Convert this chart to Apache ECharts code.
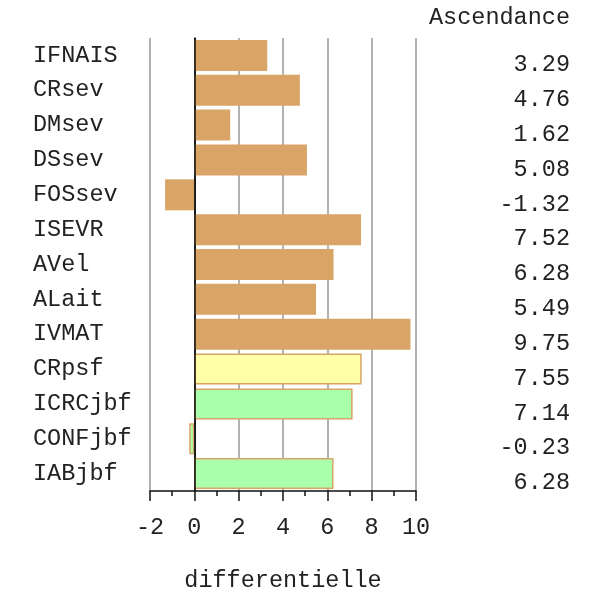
<!DOCTYPE html>
<html>
<head>
<meta charset="utf-8">
<script src="https://cdn.jsdelivr.net/npm/echarts@6/dist/echarts.min.js"></script>
<style>html,body{margin:0;padding:0;background:#fff;overflow:hidden}#c{width:592px;height:591px}</style>
</head>
<body>
<div id="c"></div>
<script>
var categories = ['IFNAIS','CRsev','DMsev','DSsev','FOSsev','ISEVR','AVel','ALait','IVMAT','CRpsf','ICRCjbf','CONFjbf','IABjbf'];
var values = [3.29, 4.76, 1.62, 5.08, -1.32, 7.52, 6.28, 5.49, 9.75, 7.55, 7.14, -0.23, 6.28];
var groups = ['a','a','a','a','a','a','a','a','a','b','c','c','c'];
var xTicks = [-2, 0, 2, 4, 6, 8, 10];
var rightTitle = 'Ascendance';
var xTitle = 'differentielle';

var FONT = 'Liberation Mono';
var FS = 23.5;
var TXT = '#222';
var ORANGE = '#D9A566';
var fills = { a: ORANGE, b: '#FFFFA8', c: '#AAFFAA' };

var chart = echarts.init(document.getElementById('c'), null, { renderer: 'canvas' });
chart.setOption({
  animation: false,
  backgroundColor: '#fff',
  title: {
    text: rightTitle, right: 17, top: 1,
    textStyle: { fontFamily: FONT, fontSize: FS, fontWeight: 'normal', color: TXT }
  },
  grid: { left: 150, right: 176, top: 38, bottom: 100, containLabel: false, outerBoundsMode: 'none' },
  xAxis: {
    type: 'value', min: xTicks[0], max: xTicks[xTicks.length - 1], interval: 2,
    name: xTitle, nameLocation: 'middle', nameGap: 78,
    nameTextStyle: { fontFamily: FONT, fontSize: FS, color: TXT },
    axisLine: { show: true, onZero: false, lineStyle: { color: '#111', width: 1.5 } },
    axisTick: { show: true, inside: false, length: 10, lineStyle: { color: '#111', width: 1.5 } },
    minorTick: { show: true, splitNumber: 2, length: 5, lineStyle: { color: '#111', width: 1.5 } },
    axisLabel: { margin: 25, fontFamily: FONT, fontSize: FS, color: TXT },
    splitLine: { show: true, lineStyle: { color: '#999', width: 1.5 } }
  },
  yAxis: [{
    type: 'category', data: categories, inverse: true, position: 'left',
    axisLine: { show: true, lineStyle: { color: '#111', width: 1.5 } },
    axisTick: { show: false },
    axisLabel: { margin: 117, align: 'left', fontFamily: FONT, fontSize: FS, color: TXT },
    splitLine: { show: false }
  }, {
    type: 'category', data: values.map(function (v) { return v.toFixed(2); }), inverse: true, position: 'right',
    axisLine: { show: false }, axisTick: { show: false },
    axisLabel: {
      margin: 154, align: 'right',
      formatter: function (s) { return '{v|' + s + '}'; },
      rich: { v: { fontFamily: FONT, fontSize: FS, color: TXT, padding: [19, 0, 0, 0] } }
    },
    splitLine: { show: false }
  }],
  series: [{
    type: 'bar',
    barCategoryGap: '11%',
    data: values.map(function (v, i) {
      return {
        value: v,
        itemStyle: { color: fills[groups[i]], borderColor: ORANGE, borderWidth: groups[i] === 'a' ? 0 : 1.5 }
      };
    }),
    markLine: {
      silent: true, symbol: 'none', label: { show: false },
      lineStyle: { color: '#111', width: 1.5, type: 'solid' },
      data: [{ xAxis: 0 }]
    }
  }]
});
</script>
</body>
</html>
